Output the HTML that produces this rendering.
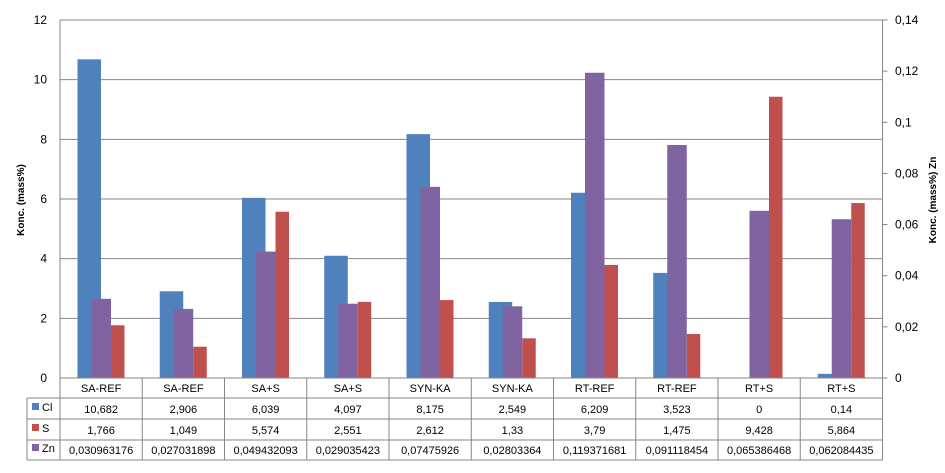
<!DOCTYPE html>
<html><head><meta charset="utf-8"><style>
body{margin:0;background:#fff;font-family:"Liberation Sans",sans-serif;}
svg text{font-family:"Liberation Sans",sans-serif;fill:#000;}
</style></head><body>
<svg id="c" width="945" height="468" xmlns="http://www.w3.org/2000/svg"></svg>
<script>
const categories=["SA-REF","SA-REF","SA+S","SA+S","SYN-KA","SYN-KA","RT-REF","RT-REF","RT+S","RT+S"];
const clVals=[10.682,2.906,6.039,4.097,8.175,2.549,6.209,3.523,0,0.14];
const sVals=[1.766,1.049,5.574,2.551,2.612,1.33,3.79,1.475,9.428,5.864];
const znVals=[0.030963176,0.027031898,0.049432093,0.029035423,0.07475926,0.02803364,0.119371681,0.091118454,0.065386468,0.062084435];
const clLabels=["10,682","2,906","6,039","4,097","8,175","2,549","6,209","3,523","0","0,14"];
const sLabels=["1,766","1,049","5,574","2,551","2,612","1,33","3,79","1,475","9,428","5,864"];
const znLabels=["0,030963176","0,027031898","0,049432093","0,029035423","0,07475926","0,02803364","0,119371681","0,091118454","0,065386468","0,062084435"];
const leftTicks=[0,2,4,6,8,10,12];
const rightTicks=["0","0,02","0,04","0,06","0,08","0,1","0,12","0,14"];
const svg=document.getElementById('c');
const NS="http://www.w3.org/2000/svg";
const L=60,R=882.5,T=20,B=378;
const cw=(R-L)/categories.length;
const y1=v=>B-(v/12)*(B-T);
const y2=v=>B-(v/0.14)*(B-T);
const xc=i=>L+i*cw;
function mk(tag,a){const e=document.createElementNS(NS,tag);for(const k in a)e.setAttribute(k,a[k]);svg.appendChild(e);return e;}
function txt(x,y,s,anchor,size){const t=mk('text',{x:x,y:y,'text-anchor':anchor||'middle','font-size':size||11});t.textContent=s;return t;}
// gridlines and left ticks
leftTicks.forEach(v=>{
  const g=mk('line',{x1:L,x2:R,y1:y1(v),y2:y1(v),stroke:'#868686','stroke-width':1});
  
  
  const t=txt(47,y1(v)+4,String(v),'end',12);
  
  
});
mk('line',{x1:L,x2:L,y1:T,y2:B,stroke:'#868686'});
mk('line',{x1:R,x2:R,y1:T,y2:B,stroke:'#868686'});
rightTicks.forEach((s,i)=>{
  const yy=B-i*(B-T)/7;
  mk('line',{x1:R,x2:R+5,y1:yy,y2:yy,stroke:'#868686'});
  const t=txt(895,yy+4,s,'start',12);
  
  
});
// bars
categories.forEach((c,i)=>{
  const x=xc(i);
  const b=mk('rect',{x:x+17.5,y:y1(clVals[i]),width:23.5,height:B-y1(clVals[i]),fill:'#4f81bd'});
  
  
  const r=mk('rect',{x:x+51,y:y1(sVals[i]),width:13.5,height:B-y1(sVals[i]),fill:'#c0504d'});
  
  
  const p=mk('rect',{x:x+31.5,y:y2(znVals[i]),width:19.5,height:B-y2(znVals[i]),fill:'#8064a2'});
  
  
});
// table
const rows=[398,419,440,460];
const grey='#868686';
mk('line',{x1:L,x2:R,y1:B,y2:B,stroke:grey});
rows.forEach((yy,k)=>mk('line',{x1:k==0?27:27,x2:R,y1:yy,y2:yy,stroke:grey}));
mk('line',{x1:27,x2:27,y1:398,y2:460,stroke:grey});
for(let i=0;i<=categories.length;i++){mk('line',{x1:xc(i),x2:xc(i),y1:B,y2:460,stroke:grey});}
categories.forEach((c,i)=>{
  const t=txt(xc(i)+cw/2,392,c);
  
  
  const a=txt(xc(i)+cw/2,413,clLabels[i]);
  
  
  const b=txt(xc(i)+cw/2,434,sLabels[i]);
  
  
  const d=txt(xc(i)+cw/2,454,znLabels[i]);
  
  
});
[["Cl","#4f81bd",409],["S","#c0504d",430],["Zn","#8064a2",450]].forEach(l=>{
  const k=mk('rect',{x:32,y:l[2]-6,width:7,height:7,fill:l[1]});
  
  
  const t=txt(42,l[2]+2,l[0],'start',11);
  
  
});
const yt=txt(0,0,'Konc. (mass%)','middle',10);
yt.setAttribute('transform','translate(24,200) rotate(-90)');
yt.setAttribute('font-weight','bold');


const yt2=txt(0,0,'Konc. (mass%) Zn','middle',10);
yt2.setAttribute('transform','translate(936,200) rotate(-90)');
yt2.setAttribute('font-weight','bold');


</script>
</body></html>
